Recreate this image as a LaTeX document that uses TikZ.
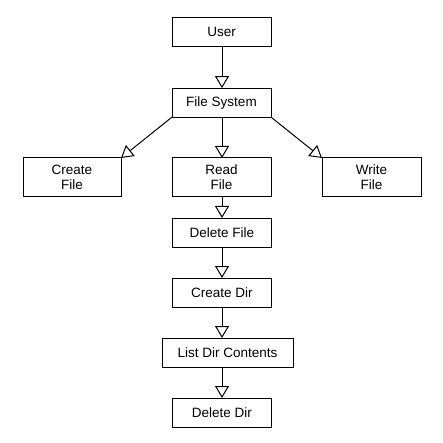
\documentclass[tikz,border=0pt]{standalone}
\usepackage{fontspec}
\setmainfont{Liberation Sans}
\usetikzlibrary{arrows.meta}
\begin{document}
\begin{tikzpicture}[x=1pt,y=-1pt,
  box/.style={draw, line width=1pt, fill=white, minimum width=99pt, minimum height=29pt,
    inner sep=0pt, outer sep=0pt, align=center,
    font=\fontsize{13.5}{15}\selectfont},
  tall/.style={box, minimum height=39pt},
  conn/.style={line width=1pt, -{Triangle[open, length=12pt, width=14pt, line width=1pt]}}]
\path[use as bounding box, fill=white] (0,0) rectangle (442,443);
\node[box] (user) at (221.5,32.2) {User};
\node[box] (fs) at (221.5,102.6) {File System};
\node[tall, minimum width=98pt] (cf) at (72,177.5) {Create\\File};
\node[tall] (rf) at (221.5,177.5) {Read\\File};
\node[tall] (wf) at (371.5,177.5) {Write\\File};
\node[box] (df) at (221.8,232.5) {Delete File};
\node[box] (cd) at (221.8,292.5) {Create Dir};
\node[box, minimum width=131pt] (ld) at (227.5,352.5) {List Dir Contents};
\node[box] (dd) at (221.8,412.5) {Delete Dir};
\draw[conn] (user.south -| 222,0) -- (fs.north -| 222,0);
\draw[conn] (fs.south west) -- (cf.north east);
\draw[conn] (fs.south -| 222,0) -- (rf.north -| 222,0);
\draw[conn] (fs.south east) -- (wf.north west);
\draw[conn] (rf.south -| 222,0) -- (df.north -| 222,0);
\draw[conn] (df.south -| 222,0) -- (cd.north -| 222,0);
\draw[conn] (cd.south -| 222,0) -- (ld.north -| 222,0);
\draw[conn] (ld.south -| 222,0) -- (dd.north -| 222,0);
\end{tikzpicture}
\end{document}
